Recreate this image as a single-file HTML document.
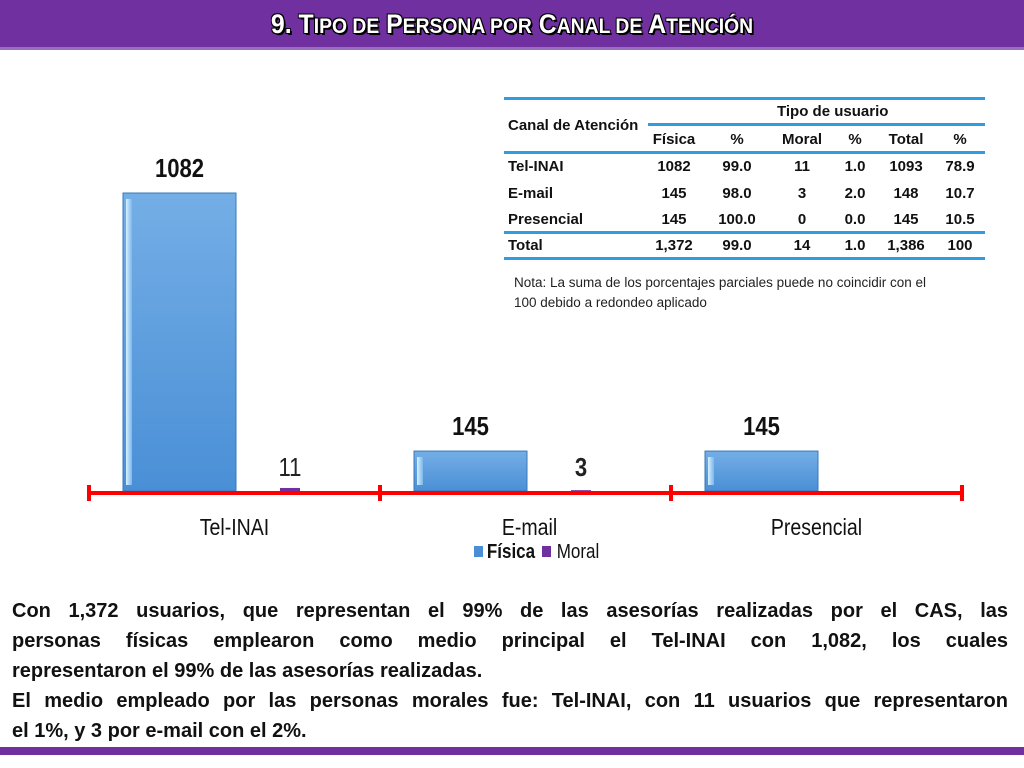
<!DOCTYPE html>
<html><head><meta charset="utf-8"><style>
*{margin:0;padding:0;box-sizing:border-box}
body{width:1024px;height:768px;background:#fff;position:relative;overflow:hidden;font-family:"Liberation Sans",sans-serif}
#title{position:absolute;left:0;top:0;width:1024px;height:50px;background:#7030a0;border-bottom:3px solid #9a6cc0}
#title h1{position:absolute;left:0;width:1024px;top:9px;text-align:center;color:#fff;font:bold 27px "Liberation Sans",sans-serif;text-shadow:2px 2px 0 #000,-1px -1px 0 #000,1px -1px 0 #000,-1px 1px 0 #000;transform:scaleX(0.92)}
.sc{font-size:21px}
#body{position:absolute;left:12px;top:596px;width:996px;font-weight:bold;font-size:20px;line-height:30px;color:#111}
#body div{text-align:justify;text-align-last:justify;white-space:nowrap}
#body div.nj{text-align-last:left}
#bot{position:absolute;left:0;top:747px;width:1024px;height:8px;background:#7030a0}
</style></head><body>
<div id="title"><h1>9. T<span class="sc">IPO DE</span> P<span class="sc">ERSONA POR</span> C<span class="sc">ANAL DE</span> A<span class="sc">TENCIÓN</span></h1></div>

<svg id="chart" width="1024" height="600" style="position:absolute;left:0;top:0">
<defs>
<linearGradient id="bg" x1="0" x2="0" y1="0" y2="1"><stop offset="0" stop-color="#74aee6"/><stop offset="1" stop-color="#4a8fd6"/></linearGradient>
<linearGradient id="side" x1="0" x2="1"><stop offset="0" stop-color="#d8f0ff"/><stop offset="1" stop-color="#7ab8ec"/></linearGradient>
</defs>
<g id="bars"></g>
</svg>

<div style="position:absolute;left:504px;top:97px;width:481px;height:165px;font-family:'Liberation Sans',sans-serif;font-weight:bold;font-size:15px;color:#111">
<div style="position:absolute;left:0;top:0;width:481px;height:3px;background:#2f9ee0"></div>
<div style="position:absolute;left:144px;top:26px;width:337px;height:3px;background:#2f9ee0"></div>
<div style="position:absolute;left:0;top:54px;width:481px;height:3px;background:#2f9ee0"></div>
<div style="position:absolute;left:0;top:134px;width:481px;height:3px;background:#2f9ee0"></div>
<div style="position:absolute;left:0;top:160px;width:481px;height:3px;background:#2f9ee0"></div>
<div id="tbl"></div>
</div>
<div style="position:absolute;left:514px;top:273px;width:480px;font-family:'Liberation Sans',sans-serif;font-size:13.5px;line-height:20px;color:#222;white-space:nowrap">Nota: La suma de los porcentajes parciales puede no coincidir con el<br>100 debido a redondeo aplicado</div>

<div id="body">
<div>Con 1,372 usuarios, que representan el 99% de las asesorías realizadas por el CAS, las</div>
<div>personas físicas emplearon como medio principal el Tel-INAI con 1,082, los cuales</div>
<div class="nj">representaron el 99% de las asesorías realizadas.</div>
<div>El medio empleado por las personas morales fue: Tel-INAI, con 11 usuarios que representaron</div>
<div class="nj">el 1%, y 3 por e-mail con el 2%.</div>
</div>
<div id="bot"></div>

<script>
const categories=["Tel-INAI","E-mail","Presencial"];
const fisica=[1082,145,145];
const moral=[11,3,0];
const rows=[["Tel-INAI","1082","99.0","11","1.0","1093","78.9"],["E-mail","145","98.0","3","2.0","148","10.7"],["Presencial","145","100.0","0","0.0","145","10.5"],["Total","1,372","99.0","14","1.0","1,386","100"]];
const NS="http://www.w3.org/2000/svg";
const g=document.getElementById('bars');
const x0=89,cw=291,base=491,scale=298/1082;
const y=v=>base-v*scale;
const FF='Liberation Sans, sans-serif';
function el(t,a,p){const e=document.createElementNS(NS,t);for(const k in a)e.setAttribute(k,a[k]);(p||g).appendChild(e);return e;}
function txt(s,cx,cy,size,bold,fill){
 const t=el('text',{x:0,y:0,'text-anchor':'middle','font-family':FF,'font-weight':bold?'bold':'normal','font-size':size,fill:fill||'#111',transform:'translate('+cx+','+cy+') scale(0.85,1)'});
 t.textContent=s;return t;}
categories.forEach((c,i)=>{
 const bx=x0+i*cw+34,bw=113,top=y(fisica[i]);
 const r=el('rect',{x:bx,y:top,width:bw,height:base-top,fill:'url(#bg)',stroke:'#3a78b8','stroke-width':1});
 
 
 const s=el('rect',{x:bx+3,y:top+6,width:6,height:Math.max(base-top-12,0),fill:'url(#side)'});
 
 
 const t=txt(String(fisica[i]),bx+bw/2,top-16,26,true);
 
 
 const mx=bx+bw+54,mt=y(moral[i]);
 if(moral[i]>0){
  const m=el('rect',{x:mx-10,y:mt,width:20,height:base-mt,fill:'#7030a0'});
  
  
  const mt2=txt(String(moral[i]),mx,476,26,i>0,'#222');
  
  
 }
 const cl=txt(categories[i],x0+i*cw+cw/2+[0,4,0][i],535,23,false);
 
 
});
const ax=el('line',{x1:x0,x2:x0+3*cw,y1:493,y2:493,stroke:'#f00','stroke-width':4});


for(let i=0;i<=3;i++){const tk=el('line',{x1:x0+i*cw,x2:x0+i*cw,y1:485,y2:501,stroke:'#f00','stroke-width':4});
 
 }
const lf=el('rect',{x:474,y:546,width:9,height:11,fill:'#4a8fd6'});


const lt=txt('Física',511,558,20,true);


const lm=el('rect',{x:542,y:546,width:9,height:11,fill:'#7030a0'});


const lt2=txt('Moral',578,558,20,false);


const tbl=document.getElementById('tbl');
const colX=[4,170,233,298,351,402,456];
function cell(t,x,yy,left){const d=document.createElement('div');d.textContent=t;
 d.style.cssText='position:absolute;top:'+yy+'px;white-space:nowrap;'+(left?'left:'+x+'px':'left:'+(x-40)+'px;width:80px;text-align:center');
 
 
 tbl.appendChild(d);}
cell('Canal de Atención',4,20,true);
cell('Tipo de usuario',313,6,false);
['Física','%','Moral','%','Total','%'].forEach((h,j)=>cell(h,colX[j+1],34,false));
rows.forEach((r,i)=>{const yy=[61,88,114,140][i];r.forEach((v,j)=>cell(v,colX[j],yy,j==0));});
</script>
</body></html>
